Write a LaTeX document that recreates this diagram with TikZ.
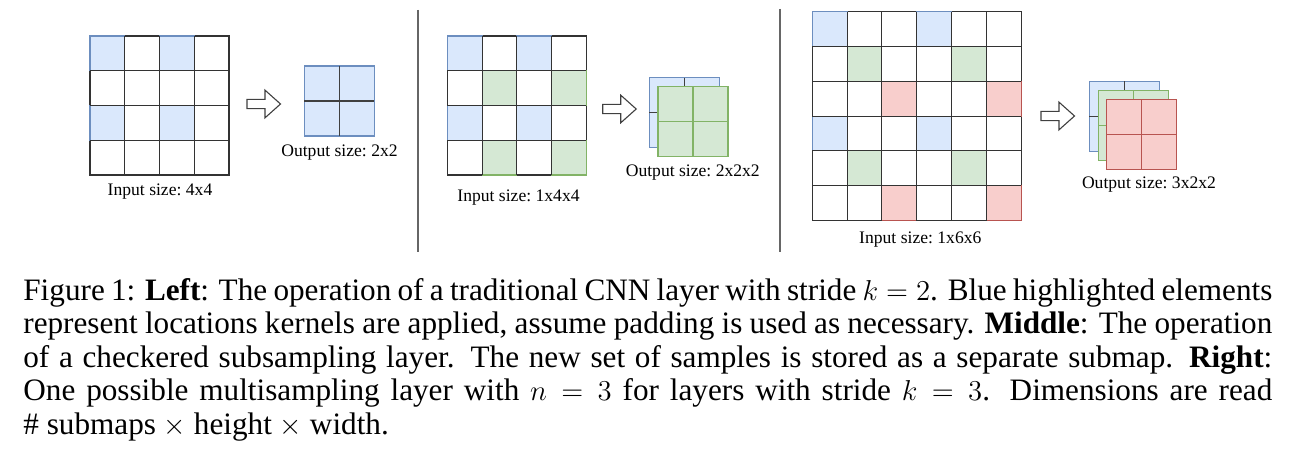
\documentclass[tikz,border=0pt]{standalone}
\usepackage{fontspec}
\setmainfont{Liberation Serif}
\usepackage{xcolor}

\definecolor{bfill}{HTML}{DAE8FC}
\definecolor{bline}{HTML}{6C8EBF}
\definecolor{gfill}{HTML}{D5E8D4}
\definecolor{gline}{HTML}{82B366}
\definecolor{rfill}{HTML}{F8CECC}
\definecolor{rline}{HTML}{B85450}

\tikzset{
  gridline/.style={draw=black!80,line width=0.55pt},
  bcell/.style={draw=bline,fill=bfill,line width=0.55pt},
  gcell/.style={draw=gline,fill=gfill,line width=0.55pt},
  rcell/.style={draw=rline,fill=rfill,line width=0.55pt},
  harrow/.style={draw=black!75,fill=white,line width=0.55pt,line join=miter},
  sepline/.style={draw=black!60,line width=1pt},
  lbl/.style={font=\fontsize{8.8}{11}\selectfont\frenchspacing,anchor=base,inner sep=0pt},
  captxt/.style={font=\fontsize{15.6}{16.75}\selectfont,text width=624.5pt,
    align=justify,anchor=base west,inner sep=0pt}
}

% one 2x2 submap: x, y, style, cross colour
\newcommand{\submap}[4]{%
  \draw[#3] (#1,#2) rectangle ++(70,70);
  \draw[draw=#4,line width=0.55pt] (#1+35,#2) -- ++(0,70) (#1,#2+35) -- ++(70,0);
}
% hollow block arrow: left end x, centre y
\newcommand{\hollowarrow}[2]{%
  \draw[harrow] (#1,#2-4.65) -- ++(18,0) -- ++(0,-9.2) -- ++(15.5,13.85)
    -- ++(-15.5,13.85) -- ++(0,-9.2) -- ++(-18,0) -- cycle;
}

\begin{document}
\begin{tikzpicture}[x=0.5pt,y=-0.5pt]

\fill[white] (0,0) rectangle (1291,465);
\useasboundingbox (0,0) rectangle (1291,465);

% left: traditional stride 2
\draw[gridline] (90,36) rectangle ++(139,139);
\foreach \r/\c in {0/0,0/2,2/0,2/2}
  \draw[bcell] (90+\c*34.75,36+\r*34.75) rectangle ++(34.75,34.75);
\foreach \i in {1,2,3} {
  \draw[gridline] (90+\i*34.75,36) -- ++(0,139);
  \draw[gridline] (90,36+\i*34.75) -- ++(139,0);
}
\hollowarrow{247}{104}
\submap{304.3}{66}{bcell}{black!75}
\node[lbl] (inL) at (160,196) {Input size: 4x4};
\node[lbl] (outL) at (339.5,156.7) {Output size: 2x2};

\draw[sepline] (418.3,10) -- (418.3,251.7);

% middle: checkered subsampling
\draw[gridline] (447.3,36) rectangle ++(139,139);
\foreach \r/\c in {0/0,0/2,2/0,2/2}
  \draw[bcell] (447.3+\c*34.75,36+\r*34.75) rectangle ++(34.75,34.75);
\foreach \r/\c in {1/1,1/3,3/1,3/3}
  \draw[gcell] (447.3+\c*34.75,36+\r*34.75) rectangle ++(34.75,34.75);
\foreach \i in {1,2,3} {
  \draw[gridline] (447.3+\i*34.75,36) -- ++(0,139);
  \draw[gridline] (447.3,36+\i*34.75) -- ++(139,0);
}
\hollowarrow{602.7}{109}
\submap{649.3}{77.7}{bcell}{black!75}
\submap{658}{86.3}{gcell}{gline}
\node[lbl] (inM) at (518.5,201.7) {Input size: 1x4x4};
\node[lbl] (outM) at (692.8,176.7) {Output size: 2x2x2};

\draw[sepline] (780,9) -- (780,252);

% right: multisampling n=3
\draw[gridline] (812.3,11.7) rectangle ++(208.8,208.8);
\foreach \r/\c in {0/0,0/3,3/0,3/3}
  \draw[bcell] (812.3+\c*34.8,11.7+\r*34.8) rectangle ++(34.8,34.8);
\foreach \r/\c in {1/1,1/4,4/1,4/4}
  \draw[gcell] (812.3+\c*34.8,11.7+\r*34.8) rectangle ++(34.8,34.8);
\foreach \r/\c in {2/2,2/5,5/2,5/5}
  \draw[rcell] (812.3+\c*34.8,11.7+\r*34.8) rectangle ++(34.8,34.8);
\foreach \i in {1,...,5} {
  \draw[gridline] (812.3+\i*34.8,11.7) -- ++(0,208.8);
  \draw[gridline] (812.3,11.7+\i*34.8) -- ++(208.8,0);
}
\hollowarrow{1041}{116}
\submap{1089.3}{81.3}{bcell}{black!75}
\submap{1098.3}{90.3}{gcell}{gline}
\submap{1106.7}{99.3}{rcell}{rline}
\node[lbl] (inR) at (920.3,243.3) {Input size: 1x6x6};
\node[lbl] (outR) at (1149,188.3) {Output size: 3x2x2};

% caption
\node[captxt] (cap) at (23,300) {Figure 1: \textbf{Left}: The operation of a traditional CNN layer with stride $k=2$. Blue highlighted elements\linebreak
represent locations kernels are applied, assume padding is used as necessary. \textbf{Middle}: The operation\linebreak
of a checkered subsampling layer. The new set of samples is stored as a separate submap. \textbf{Right}:\linebreak
One possible multisampling layer with $n=3$ for layers with stride $k=3$. Dimensions are read\linebreak
\# submaps $\times$ height $\times$ width.};

\end{tikzpicture}
\end{document}
